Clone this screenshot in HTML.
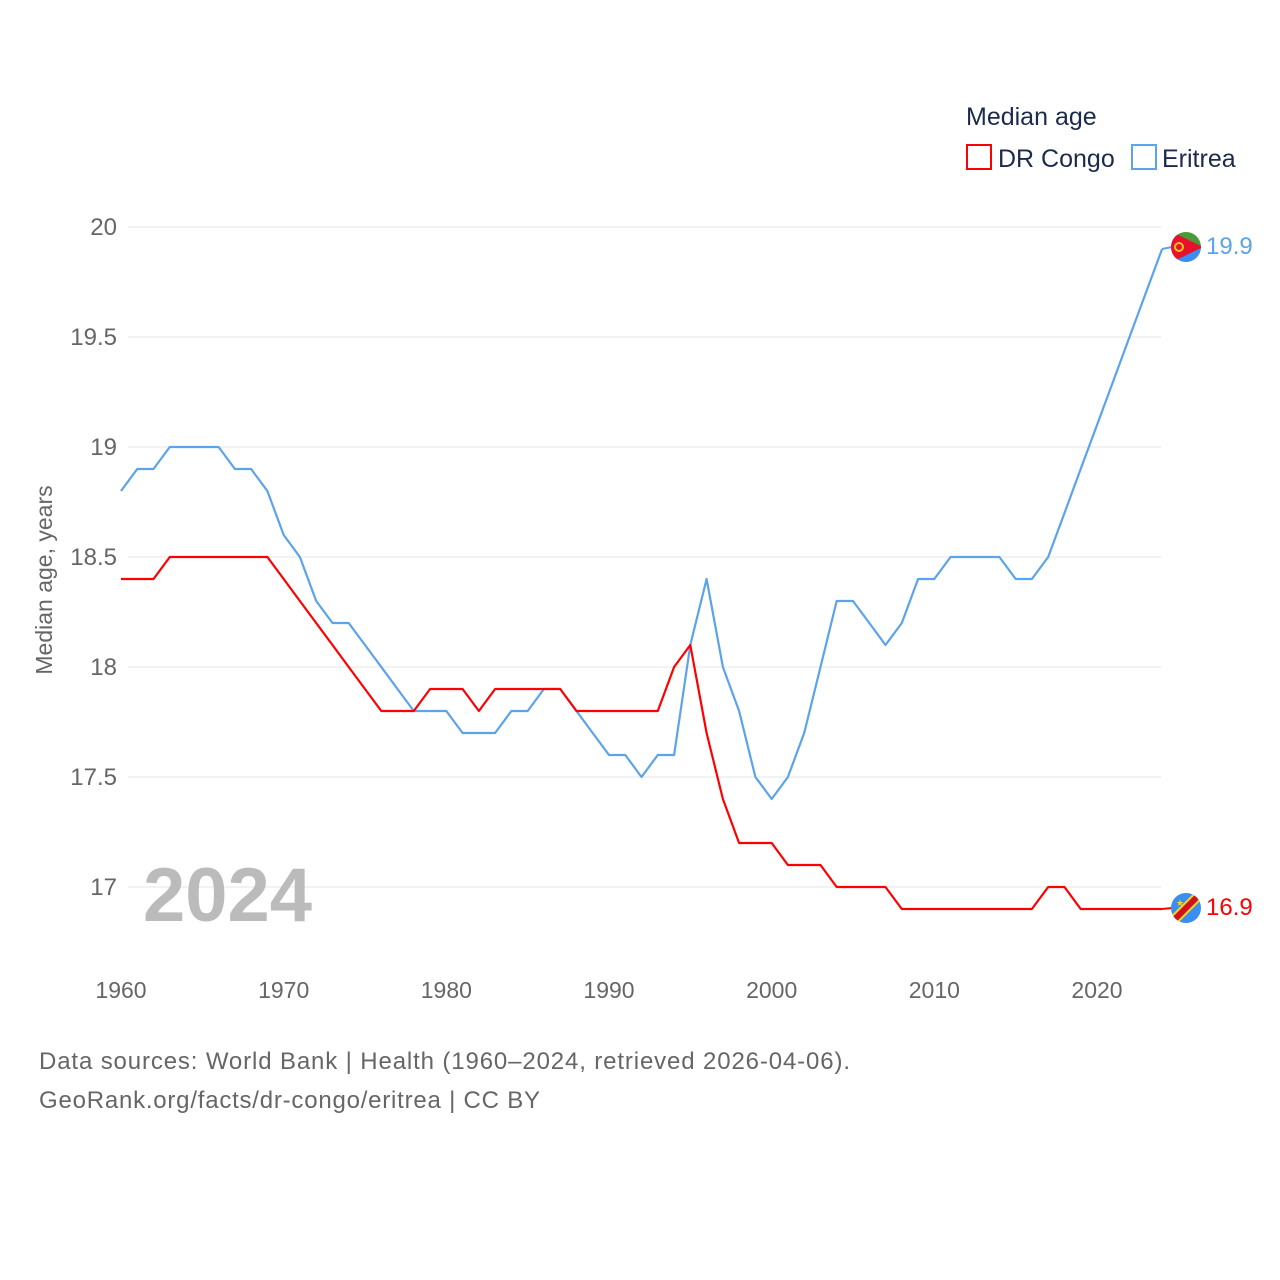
<!DOCTYPE html>
<html><head><meta charset="utf-8"><style>
body{margin:0;background:#fff;}
svg{display:block;font-family:"Liberation Sans",sans-serif;}
</style></head><body>
<svg id="chart" width="1280" height="1280" viewBox="0 0 1280 1280">
<defs>
<clipPath id="c1"><circle cx="1186" cy="247" r="15"/></clipPath>
<clipPath id="c2"><circle cx="1186" cy="908" r="15"/></clipPath>
</defs>
<g id="grid"></g>
<g id="yticks"></g>
<g id="xticks"></g>
<text x="52" y="580" transform="rotate(-90 52 580)" text-anchor="middle" font-size="23" fill="#666">Median age, years</text>
<text x="143" y="921" font-size="76" font-weight="bold" fill="#bbb">2024</text>
<g id="series"></g>
<g>
<text x="966" y="125" font-size="25" fill="#1b2b4b">Median age</text>
<rect x="967" y="145" width="24" height="24" fill="none" stroke="#ff0000" stroke-width="2"/>
<text x="998" y="167" font-size="25" fill="#1b2b4b">DR Congo</text>
<rect x="1132" y="145" width="24" height="24" fill="none" stroke="#5ba3ea" stroke-width="2"/>
<text x="1162" y="167" font-size="25" fill="#1b2b4b">Eritrea</text>
</g>
<g clip-path="url(#c1)">
<rect x="1170" y="231" width="32" height="16" fill="#4a9a3a"/>
<rect x="1170" y="247" width="32" height="16" fill="#3a8ef0"/>
<polygon points="1170,231 1203,247 1170,263" fill="#e8112d"/>
<circle cx="1179" cy="247" r="4" fill="none" stroke="#f5c21b" stroke-width="2"/>
</g>
<g clip-path="url(#c2)">
<rect x="1170" y="892" width="32" height="32" fill="#3a8ef0"/>
<line x1="1168" y1="926" x2="1204" y2="890" stroke="#f7d618" stroke-width="10"/>
<line x1="1168" y1="926" x2="1204" y2="890" stroke="#ce1021" stroke-width="6"/>
<text x="1180" y="906" font-size="9" fill="#f7d618" text-anchor="middle">★</text>
</g>
<text x="1206" y="254" font-size="24" fill="#5ba3ea">19.9</text>
<text x="1206" y="915" font-size="24" fill="#ff0000">16.9</text>
<text x="39" y="1069" font-size="24" fill="#666" textLength="811" lengthAdjust="spacing">Data sources: World Bank | Health (1960–2024, retrieved 2026-04-06).</text>
<text x="39" y="1108" font-size="24" fill="#666" textLength="501" lengthAdjust="spacing">GeoRank.org/facts/dr-congo/eritrea | CC BY</text>
</svg>
<script>
const years = Array.from({length:65},(_,i)=>1960+i);
const drCongo = [18.4,18.4,18.4,18.5,18.5,18.5,18.5,18.5,18.5,18.5,18.4,18.3,18.2,18.1,18.0,17.9,17.8,17.8,17.8,17.9,17.9,17.9,17.8,17.9,17.9,17.9,17.9,17.9,17.8,17.8,17.8,17.8,17.8,17.8,18.0,18.1,17.7,17.4,17.2,17.2,17.2,17.1,17.1,17.1,17.0,17.0,17.0,17.0,16.9,16.9,16.9,16.9,16.9,16.9,16.9,16.9,16.9,17.0,17.0,16.9,16.9,16.9,16.9,16.9,16.9];
const eritrea = [18.8,18.9,18.9,19.0,19.0,19.0,19.0,18.9,18.9,18.8,18.6,18.5,18.3,18.2,18.2,18.1,18.0,17.9,17.8,17.8,17.8,17.7,17.7,17.7,17.8,17.8,17.9,17.9,17.8,17.7,17.6,17.6,17.5,17.6,17.6,18.1,18.4,18.0,17.8,17.5,17.4,17.5,17.7,18.0,18.3,18.3,18.2,18.1,18.2,18.4,18.4,18.5,18.5,18.5,18.5,18.4,18.4,18.5,18.7,18.9,19.1,19.3,19.5,19.7,19.9];
const yTicks = [17,17.5,18,18.5,19,19.5,20];
const yTickLabels = ["17","17.5","18","18.5","19","19.5","20"];
const xTicks = [1960,1970,1980,1990,2000,2010,2020];

const NS="http://www.w3.org/2000/svg";
const xs = y => 121 + (y-1960)*(1097-121)/60;
const ys = v => 887 - (v-17)*220;
function mk(tag,attrs,parent){const e=document.createElementNS(NS,tag);for(const k in attrs)e.setAttribute(k,attrs[k]);parent.appendChild(e);return e;}
const grid=document.getElementById('grid'), yt=document.getElementById('yticks'), xt=document.getElementById('xticks'), ser=document.getElementById('series');
yTicks.forEach((v,i)=>{
  const l=mk('line',{x1:128,x2:1161,y1:ys(v),y2:ys(v),stroke:'#e6e6e6','stroke-width':1},grid);
  
  
  const t=mk('text',{x:117,y:ys(v)+8,'text-anchor':'end','font-size':24,fill:'#666'},yt);
  t.textContent=yTickLabels[i];
  
  
});
xTicks.forEach(v=>{
  const t=mk('text',{x:xs(v),y:998,'text-anchor':'middle','font-size':23,fill:'#666'},xt);
  t.textContent=String(v);
  
  
});
function line(vals,color,name,endY){
  const pts=vals.map((v,i)=>xs(years[i]).toFixed(1)+','+ys(v).toFixed(1)).join(' ');
  const p=mk('polyline',{points:pts,fill:'none',stroke:color,'stroke-width':2.2,'stroke-linejoin':'round'},ser);
  
  
  const last=vals[vals.length-1];
  const ld=mk('line',{x1:xs(years[years.length-1]),y1:ys(last),x2:1172,y2:endY,stroke:color,'stroke-width':2},ser);
  
  
}
line(eritrea,'#5ba3ea','line-eritrea',247);
line(drCongo,'#ff0000','line-dr-congo',908);
</script>
</body></html>
